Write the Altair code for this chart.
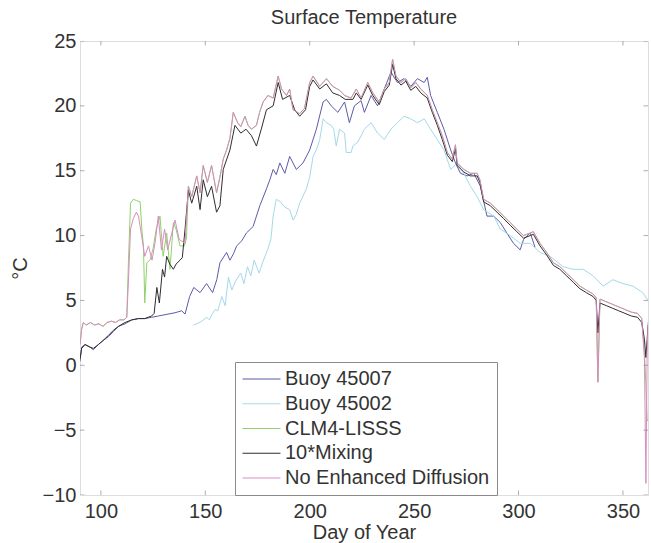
import altair as alt
import pandas as pd

TITLE = "Surface Temperature"
X_TITLE = "Day of Year"
Y_TITLE = "°C"
SERIES = ["Buoy 45007", "Buoy 45002", "CLM4-LISSS", "10*Mixing", "No Enhanced Diffusion"]
COLORS = ["#5b5ba8", "#a3d9ea", "#8fd16a", "#2e2e2e", "#d98cc0"]
X_TICKS = [100, 150, 200, 250, 300, 350]
Y_TICKS = [-10, -5, 0, 5, 10, 15, 20, 25]
X_DOMAIN = [90, 362]
Y_DOMAIN = [-10, 25]

buoy45007_day = [90, 90.8, 92.4, 94.8, 96.4, 98.8, 101, 103.6, 106, 108.4, 111.6, 114.8, 118, 121, 124.3,
                 127.5, 130.7, 135.5, 138.7, 140.3, 142.5, 144.5, 147.5, 150.6, 153.5, 155.5, 157, 160.2,
                 161.8, 163.5, 165, 167.5, 169.7, 172.9, 174.5, 176.1, 179.3, 180.9, 182.5, 184, 185.7,
                 188.1, 190.4, 193.6, 196.8, 200, 203.2, 206.4, 208, 210.3, 213.5, 216.7, 219, 221.4,
                 224.6, 226.2, 229.4, 232.5, 235.7, 238.9, 242, 245.2, 248.4, 251.6, 254.8, 256.3, 257.9,
                 261.1, 264.3, 267.5, 269.8, 272.2, 275.4, 278.6, 281.7, 284.9, 288.1, 291.3, 294.4,
                 297.6, 300.8, 302.4, 305.6, 307.9]
buoy45007_temp = [0.3, 1.4, 1.6, 1.4, 1.2, 1.6, 1.9, 2.2, 2.6, 3.0, 3.2, 3.5, 3.6, 3.6, 3.7,
                  3.8, 3.9, 4.05, 4.2, 3.95, 5.3, 6.0, 5.6, 6.3, 5.6, 6.6, 7.9, 8.7,
                  8.1, 8.6, 9.2, 9.6, 10.2, 10.7, 11.5, 12.3, 13.6, 14.3, 15.1, 14.7, 15.6,
                  14.8, 16.1, 15.1, 15.6, 16.6, 18.2, 20.3, 20.5, 20.0, 19.5, 20.3, 18.7, 20.0,
                  20.4, 19.5, 20.8, 20.0, 21.3, 22.6, 21.8, 22.1, 21.5, 22.1, 21.8, 22.2, 20.8,
                  19.5, 18.2, 16.6, 15.6, 14.8, 14.6, 14.8, 13.8, 11.5, 11.5, 11.0, 10.2,
                  9.4, 8.9, 9.7, 10.2, 9.1]

buoy45002_day = [144.3, 146, 148.3, 150.7, 152, 153.1, 154.7, 156, 157.9, 159.5, 161.1, 162.7, 164.5,
                 167, 168.5, 170.2, 171.8, 173.4, 175.8, 177.4, 179.8, 181.4, 182.5, 184, 186, 188,
                 190.4, 192, 193.5, 195.2, 198.4, 200, 201.6, 203.2, 204.8, 206.4, 208, 210.3, 211.5,
                 212.7, 214.3, 216.7, 217.5, 219.8, 220.7, 223, 226.2, 229.4, 232.5, 235.7, 238.9, 242,
                 245.2, 248.4, 251.6, 254.8, 257.9, 261.1, 264.3, 267.5, 270.6, 273.8, 277, 280.2,
                 283.3, 288.1, 291.3, 296, 300.8, 305.6, 310.3, 315.1, 321.4, 326.2, 331, 335.7, 340.5,
                 345.2, 350, 354.8, 359.5, 362]
buoy45002_temp = [3.1, 3.2, 3.4, 3.7, 3.5, 3.9, 4.3, 4.2, 5.3, 4.6, 6.8, 5.8, 6.5,
                  7.1, 6.3, 7.6, 6.9, 8.1, 7.1, 7.9, 8.9, 9.7, 11.5, 12.8, 12.6, 12.2,
                  12.0, 11.2, 11.6, 12.5, 13.6, 14.5, 16.1, 16.6, 17.4, 19.0, 18.7, 18.5, 18.2,
                  16.9, 18.2, 17.9, 16.4, 16.4, 16.9, 17.2, 18.2, 18.7, 17.9, 17.4, 18.2, 18.7,
                  19.2, 19.0, 18.7, 19.0, 18.2, 17.4, 16.6, 15.1, 15.6, 14.8, 13.8, 13.0,
                  12.0, 11.5, 10.5, 10.0, 9.4, 9.4, 8.7, 8.4, 7.6, 7.4, 7.4, 6.9, 6.1,
                  6.6, 6.3, 6.1, 5.6, 5.0]

noenh_day = [90, 90.8, 91.6, 93, 95, 97, 99, 101, 103, 105, 107, 109, 111, 112.4, 113.2, 114.2, 115.5,
             117, 118, 119.5, 121, 122.8, 124.5, 126, 127.5, 129, 130.5, 132, 134, 135.5, 137.5, 140.3,
             141.9, 143.5, 145.9, 147.5, 149, 151, 153, 155.4, 157, 158.6, 160.2, 161.8, 163.4, 165.5,
             167, 169, 170.5, 172.1, 174.5, 176, 177.7, 180, 182.5, 184.9, 186.5, 188.9, 190.4, 192,
             195.2, 197.5, 200, 201.6, 204.8, 208, 211, 214.3, 216.7, 219.8, 222.3, 224.6, 227.8,
             230.2, 233.3, 235.7, 238.1, 239.7, 241.3, 243.7, 246, 248.4, 250.8, 253.2, 256.3, 258.7,
             261.1, 263.5, 265.9, 268.3, 269.8, 270.6, 273.8, 277, 280.2, 281.5, 283.3, 286.5, 289.7,
             292.9, 296, 299.2, 302.4, 305.6, 307.1, 310.3, 313.5, 316.7, 319.8, 323, 326.2, 329.4,
             332.5, 335.7, 337.2, 338, 339, 342, 345, 348, 351, 354, 357, 359, 360.3, 361, 361.6, 362]
noenh_temp = [1.6, 2.8, 3.3, 3.1, 3.3, 3.1, 3.2, 3.0, 3.3, 3.4, 3.3, 3.5, 3.5, 3.7, 6.5, 10.5, 11.3,
              11.8, 11.5, 10.0, 8.4, 9.2, 8.1, 9.5, 11.5, 8.9, 10.5, 8.9, 10.2, 11.2, 9.7, 9.4,
              13.8, 13.0, 14.6, 13.3, 15.4, 14.1, 15.4, 13.3, 14.5, 15.9, 16.6, 17.5, 19.5, 18.7,
              18.4, 19.2, 18.5, 18.2, 18.5, 19.5, 20.3, 20.8, 20.6, 22.3, 21.3, 20.8, 21.3, 19.7,
              19.4, 19.8, 21.8, 22.3, 21.5, 22.1, 21.5, 21.2, 20.8, 20.6, 21.3, 20.6, 21.8,
              21.0, 20.3, 21.3, 21.8, 23.6, 22.3, 21.8, 22.1, 21.4, 21.8, 21.3, 20.8, 19.7,
              18.7, 17.7, 16.4, 15.9, 17.0, 15.6, 15.1, 14.8, 14.8, 14.3, 12.8, 12.5, 12.0,
              11.5, 11.0, 10.5, 10.0, 10.2, 10.3, 9.4, 8.7, 7.9, 7.6, 7.1, 6.6, 6.1,
              5.8, 5.5, 5.2, -1.3, 5.1, 4.9, 4.7, 4.5, 4.3, 4.1, 4.0, 3.6, 0.5, -9.1, 1.0, 3.3]

mixing_day = [90, 90.8, 92.4, 94.8, 96.4, 98.8, 101, 103.6, 106, 108.4, 111.6, 114.8, 118, 121, 124.3,
              125.5, 126.8, 128, 129.5, 130.5, 131.5, 133, 134.7, 136, 137.9, 139, 140.3, 141.9, 143.5,
              145.9, 147.5, 149, 151, 153, 155.4, 157, 158.6, 161.8, 164.2, 167, 169.5, 172.1, 174.5,
              176.8, 179.3, 182.5, 184.9, 187, 190.4, 192.8, 195.2, 198, 200, 201.6, 204.8, 208, 211,
              214.3, 217, 220.7, 222.3, 224.6, 227.8, 230.2, 233.3, 235.7, 238.1, 239.7, 241.3, 243.7,
              246, 248.4, 250.8, 253.2, 256.3, 258.7, 261.1, 263.5, 265.9, 268.3, 269.8, 270.6, 273.8,
              277, 280.2, 281.5, 283.3, 286.5, 289.7, 292.9, 296, 299.2, 302.4, 305.6, 307.1, 310.3,
              313.5, 316.7, 319.8, 323, 326.2, 329.4, 332.5, 335.7, 337.2, 338, 339, 342, 345, 348,
              351, 354, 357, 359, 360.3, 361, 361.6, 362]
mixing_temp = [0.5, 1.3, 1.6, 1.4, 1.3, 1.6, 1.9, 2.3, 2.7, 3.0, 3.3, 3.5, 3.6, 3.6, 3.8,
               4.0, 6.0, 4.8, 7.4, 6.8, 8.4, 7.8, 7.4, 7.8, 8.1, 8.3, 10.5, 13.5, 12.5,
               13.8, 12.0, 14.3, 13.0, 13.8, 11.8, 12.3, 15.1, 16.6, 18.5, 17.9, 18.2, 17.7, 16.9,
               18.2, 19.7, 20.0, 21.8, 20.5, 20.8, 19.7, 19.2, 19.7, 21.5, 22.0, 21.3, 21.7, 21.0,
               20.8, 20.5, 20.5, 21.0, 20.5, 21.6, 20.8, 20.1, 21.1, 21.6, 23.2, 22.1, 21.6,
               21.9, 21.2, 21.5, 21.0, 20.6, 19.5, 18.5, 17.4, 16.2, 15.7, 16.7, 15.4, 14.9,
               14.6, 14.6, 14.1, 12.6, 12.3, 11.8, 11.3, 10.8, 10.3, 9.8, 10.0, 10.1, 9.2,
               8.5, 7.7, 7.4, 6.9, 6.4, 5.9, 5.6, 5.3, 5.0, 2.5, 4.8, 4.6, 4.4, 4.2,
               4.0, 3.8, 3.7, 3.3, 2.0, 0.6, 2.0, 3.1]

clm4_early_day = [90, 90.8, 91.6, 93, 95, 97, 99, 101, 103, 105, 107, 109, 111, 112.4, 113.2, 114.2,
                  115.5, 117, 118.8, 119.6, 120.4, 121, 122, 123.5, 125, 126.5, 128.3, 129.8, 131.5,
                  133.1, 134.7, 136, 137.9, 140, 141]
clm4_early_temp = [1.6, 2.8, 3.3, 3.1, 3.3, 3.1, 3.2, 3.0, 3.3, 3.4, 3.3, 3.5, 3.5, 3.7, 8.0, 12.5,
                   12.8, 12.7, 12.6, 10.5, 9.2, 4.8, 7.9, 8.1, 9.0, 10.5, 11.5, 8.4, 10.2,
                   7.4, 11.0, 10.5, 9.2, 9.2, 9.8]
clm4_end_day = [359, 360.3, 361, 361.6, 362]
clm4_end_temp = [3.6, 1.0, -1.5, -4.3, -4.2]

# CLM4-LISSS coincides with the No Enhanced Diffusion run between its early spike and the final dip
clm4_mid = [(d, t) for d, t in zip(noenh_day, noenh_temp) if 141.5 < d < 358.5]
clm4_day = clm4_early_day + [d for d, _ in clm4_mid] + clm4_end_day
clm4_temp = clm4_early_temp + [t for _, t in clm4_mid] + clm4_end_temp

series_data = {
    "Buoy 45007": (buoy45007_day, buoy45007_temp),
    "Buoy 45002": (buoy45002_day, buoy45002_temp),
    "CLM4-LISSS": (clm4_day, clm4_temp),
    "10*Mixing": (mixing_day, mixing_temp),
    "No Enhanced Diffusion": (noenh_day, noenh_temp),
}

FONT = "Liberation Sans"
TEXT = "#333333"
FRAME = "#8a8a8a"

x_enc = alt.X("day:Q", scale=alt.Scale(domain=X_DOMAIN, nice=False, zero=False),
              axis=alt.Axis(values=X_TICKS, ticks=False, domain=False, grid=False,
                            labelFontSize=20, labelFont=FONT, labelColor=TEXT, labelPadding=6,
                            title=X_TITLE, titleFontSize=20, titleFont=FONT, titleColor=TEXT,
                            titleFontWeight="normal", titlePadding=1))
y_enc = alt.Y("temp:Q", scale=alt.Scale(domain=Y_DOMAIN, nice=False, zero=False),
              axis=alt.Axis(values=Y_TICKS, ticks=False, domain=False, grid=False,
                            labelFontSize=20, labelFont=FONT, labelColor=TEXT, labelPadding=4,
                            title=Y_TITLE, titleFontSize=20, titleFont=FONT, titleColor=TEXT,
                            titleFontWeight="normal", titlePadding=12))
color_enc = alt.Color("series:N", scale=alt.Scale(domain=SERIES, range=COLORS),
                      legend=alt.Legend(orient="none", legendX=155, legendY=321, title=None,
                                        symbolType="stroke", symbolSize=1444, symbolStrokeWidth=1,
                                        clipHeight=20, rowPadding=4.75, labelFontSize=20,
                                        labelFont=FONT, labelColor=TEXT, labelOffset=4,
                                        labelLimit=400, padding=7, strokeColor=FRAME,
                                        fillColor="white", cornerRadius=0))

layers = []
for name in SERIES:
    d, t = series_data[name]
    df = pd.DataFrame({"day": d, "temp": t, "series": name})
    layers.append(alt.Chart(df).mark_line(strokeWidth=1, clip=True).encode(
        x=x_enc, y=y_enc, color=color_enc))

# inside tick marks on all four sides (box style)
xt = pd.DataFrame({"day": X_TICKS * 2, "temp": [Y_DOMAIN[0]] * len(X_TICKS) + [Y_DOMAIN[1]] * len(X_TICKS)})
yt = pd.DataFrame({"temp": Y_TICKS * 2, "day": [X_DOMAIN[0]] * len(Y_TICKS) + [X_DOMAIN[1]] * len(Y_TICKS)})
xticks = alt.Chart(xt).mark_tick(orient="vertical", size=9, thickness=1, color=FRAME, clip=True).encode(
    x=x_enc, y=y_enc)
yticks = alt.Chart(yt).mark_tick(orient="horizontal", size=9, thickness=1, color=FRAME, clip=True).encode(
    x=x_enc, y=y_enc)

chart = alt.layer(*layers, xticks, yticks).properties(
    width=568, height=454,
    title=alt.TitleParams(TITLE, fontSize=20, font=FONT, fontWeight="normal", color=TEXT,
                          anchor="middle", offset=3),
    autosize=alt.AutoSizeParams(type="none"),
    padding={"left": 80, "top": 41, "right": 3, "bottom": 48},
).configure_view(stroke=FRAME, strokeWidth=1).configure(background="white")

chart.save("out.html", embed_options={"renderer": "svg", "actions": False})
